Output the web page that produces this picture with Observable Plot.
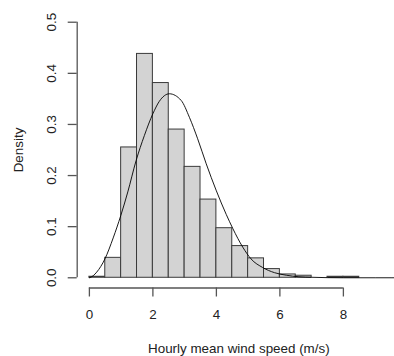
<!DOCTYPE html>
<html>
<head>
<meta charset="utf-8">
<script src="https://cdn.jsdelivr.net/npm/d3@7"></script>
<script src="https://cdn.jsdelivr.net/npm/@observablehq/plot@0.6"></script>
<style>
  html, body { margin: 0; padding: 0; background: #fff; }
  svg { display: block; }
</style>
</head>
<body>
<div id="chart"></div>
<script>
// Histogram bins (left edges, width 0.5) and densities
const binStarts = [0, 0.5, 1.0, 1.5, 2.0, 2.5, 3.0, 3.5, 4.0, 4.5, 5.0, 5.5, 6.0, 6.5, 7.0, 7.5, 8.0];
const binWidth = 0.5;
const densities = [0.002, 0.039, 0.255, 0.438, 0.381, 0.290, 0.217, 0.153, 0.097, 0.062, 0.038, 0.017, 0.0065, 0.004, 0, 0.002, 0.002];

// Fitted density curve
const curveX = [0, 0.12, 0.23, 0.49, 0.75, 0.99, 1.21, 1.47, 1.73, 2.0, 2.2, 2.52, 2.89, 3.15, 3.41, 3.68, 4.0, 4.31, 4.52, 4.83, 5.09, 5.46, 5.83, 6.2, 6.6, 7.0, 8.0, 9.0, 10.0];
const curveY = [0, 0.004, 0.011, 0.037, 0.078, 0.122, 0.168, 0.229, 0.278, 0.321, 0.345, 0.360, 0.347, 0.314, 0.272, 0.223, 0.170, 0.124, 0.096, 0.060, 0.037, 0.020, 0.010, 0.005, 0.002, 0.001, 0, 0, 0];

// Axis ticks and labels
const xTicks = [0, 2, 4, 6, 8];
const yTicks = [0, 0.1, 0.2, 0.3, 0.4, 0.5];
const xLabel = "Hourly mean wind speed (m/s)";
const yLabel = "Density";

const xDomain = [-0.384, 9.61];
const yDomain = [-0.02, 0.52];

const bins = binStarts.map((s, i) => ({x1: s, x2: s + binWidth, density: densities[i]}));
const curve = curveX.map((x, i) => ({x, y: curveY[i]}));

const fmt = d3.format(".1f");
const axisColor = "#555";
const textColor = "#222";

const chart = Plot.plot({
  width: 394,
  height: 356,
  marginLeft: 76.7,
  marginRight: 0,
  marginTop: 11.5,
  marginBottom: 68.5,
  x: {domain: xDomain, axis: null},
  y: {domain: yDomain, axis: null},
  style: {fontFamily: "'Liberation Sans', Arial, sans-serif", fontSize: "13.4px", color: textColor, background: "#fff"},
  marks: [
    Plot.rectY(bins, {x1: "x1", x2: "x2", y: "density", fill: "#d3d3d3", stroke: "#3a3a3a", strokeWidth: 1}),
    Plot.line(curve, {x: "x", y: "y", stroke: "#000", strokeWidth: 0.9, curve: "monotone-x", clip: true}),
    // axis lines spanning tick range
    Plot.ruleY([yDomain[0]], {x1: xTicks[0], x2: xTicks[xTicks.length - 1], stroke: axisColor, strokeWidth: 1.3}),
    Plot.ruleX([xDomain[0]], {y1: yTicks[0], y2: yTicks[yTicks.length - 1], stroke: axisColor, strokeWidth: 1.3}),
    Plot.axisX({ticks: xTicks, tickSize: 9, tickPadding: 12.8, stroke: axisColor, strokeWidth: 1.3, tickFormat: d => String(d), fill: textColor}),
    Plot.axisY({ticks: yTicks, tickSize: 9, stroke: axisColor, strokeWidth: 1.3, tickFormat: () => ""}),
    Plot.text(yTicks, {x: xDomain[0], y: d => d, text: d => fmt(d), rotate: -90, dx: -25, textAnchor: "middle", lineAnchor: "middle", fill: textColor}),
    Plot.text([yLabel], {frameAnchor: "left", rotate: -90, dx: -58.7, textAnchor: "middle", lineAnchor: "middle", fill: textColor}),
    Plot.text([xLabel], {frameAnchor: "bottom", dy: 60.5, dx: 3, textAnchor: "middle", lineAnchor: "middle", fill: textColor})
  ]
});
document.getElementById("chart").appendChild(chart);
</script>
</body>
</html>
